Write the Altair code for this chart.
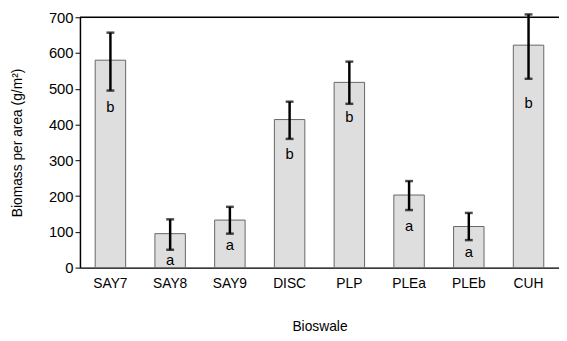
import altair as alt
import pandas as pd

sites = ["SAY7", "SAY8", "SAY9", "DISC", "PLP", "PLEa", "PLEb", "CUH"]
biomass = [580, 95, 133, 414, 518, 203, 115, 622]
err_low = [495, 50, 95, 360, 458, 161, 77, 528]
err_high = [657, 135, 170, 464, 576, 242, 153, 708]
letters = ["b", "a", "a", "b", "b", "a", "a", "b"]
letter_y = [449, 22, 63, 317, 422, 117, 43, 460]
y_ticks = [0, 100, 200, 300, 400, 500, 600, 700]

df = pd.DataFrame({
    "site": sites, "biomass": biomass, "lo": err_low, "hi": err_high,
    "letter": letters, "ly": letter_y,
})

W, H = 486, 254
FONT = "Liberation Sans"
YTITLE = "Biomass per area (g/m²)"

xax = alt.Axis(labelAngle=0, labelFontSize=14, labelPadding=9,
               ticks=False, domainColor="black", domainWidth=1.5,
               titleFontSize=14, titleFontWeight="normal",
               titlePadding=30, labelColor="black", titleColor="black")
yax = alt.Axis(values=y_ticks, tickSize=5,
               tickColor="black", domainColor="black", domainWidth=1.5,
               labelFontSize=15, labelPadding=2, grid=False,
               labelOverlap=False,
               titleFontSize=14, titleFontWeight="normal",
               titlePadding=24, labelColor="black", titleColor="black")
xsc = alt.Scale(paddingInner=0.49, paddingOuter=0.255)
yscale = alt.Scale(domain=[0, 700])


def X():
    return alt.X("site:N", sort=sites, title="Bioswale", scale=xsc, axis=xax)


def Y(field):
    return alt.Y(field, scale=yscale, title=YTITLE, axis=yax)


base = alt.Chart(df)

bars = base.mark_bar(fill="#dedede", stroke="#666666", strokeWidth=1).encode(
    x=X(), y=Y("biomass:Q"))
rules = base.mark_rule(color="black", strokeWidth=2.5).encode(
    x=X(), y=Y("lo:Q"), y2="hi:Q")
cap_lo = base.mark_tick(color="black", thickness=2.5, size=8, orient="horizontal").encode(
    x=X(), y=Y("lo:Q"))
cap_hi = base.mark_tick(color="black", thickness=2.5, size=8, orient="horizontal").encode(
    x=X(), y=Y("hi:Q"))
text = base.mark_text(font=FONT, fontSize=15, color="black", baseline="middle").encode(
    x=X(), y=Y("ly:Q"), text="letter:N")

top = alt.Chart(pd.DataFrame({"v": [700]})).mark_rule(color="black", strokeWidth=1.5).encode(
    y=Y("v:Q"), x=alt.value(0), x2=alt.value(W))

chart = alt.layer(bars, rules, cap_lo, cap_hi, text, top).properties(
    width=W, height=H,
    autosize=alt.AutoSizeParams(type="none"),
    padding={"left": 73, "top": 7, "right": 0, "bottom": 70},
).configure_view(stroke=None).configure(font=FONT)

chart.save("out.html", embed_options={"renderer": "svg", "actions": False})
